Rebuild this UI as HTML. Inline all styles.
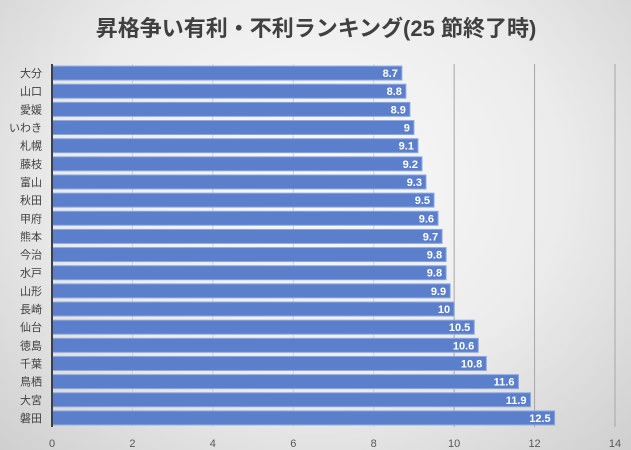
<!DOCTYPE html>
<html><head><meta charset="utf-8"><style>
body{margin:0;width:631px;height:450px;overflow:hidden}
#bg{position:absolute;left:0;top:0;width:631px;height:450px;background:radial-gradient(ellipse at 50% 40%,#fafafa 0%,#ececec 55%,#cfcfcf 100%)}
text{font-family:"Liberation Sans","Noto Sans CJK JP",sans-serif}
</style></head><body>
<div id="bg"></div>
<svg id="c" width="631" height="450" style="position:absolute;left:0;top:0">
<text x="316" y="36" text-anchor="middle" font-size="22" font-weight="bold" fill="#404040">昇格争い有利・不利ランキング(25 節終了時)</text>
</svg>
<script>
const categories=["大分","山口","愛媛","いわき","札幌","藤枝","富山","秋田","甲府","熊本","今治","水戸","山形","長崎","仙台","徳島","千葉","鳥栖","大宮","磐田"];
const values=[8.7,8.8,8.9,9,9.1,9.2,9.3,9.5,9.6,9.7,9.8,9.8,9.9,10,10.5,10.6,10.8,11.6,11.9,12.5];
const labels=["8.7","8.8","8.9","9","9.1","9.2","9.3","9.5","9.6","9.7","9.8","9.8","9.9","10","10.5","10.6","10.8","11.6","11.9","12.5"];
const ticks=[0,2,4,6,8,10,12,14];
const svg=document.getElementById('c');const NS='http://www.w3.org/2000/svg';
const x0=52,x1=615,xmax=14,yTop=64,yBot=427;
const x=v=>x0+v/xmax*(x1-x0);
const band=(yBot-yTop)/categories.length;
const y=i=>yTop+i*band;
function mk(t,a){const e=document.createElementNS(NS,t);for(const k in a)e.setAttribute(k,a[k]);svg.appendChild(e);return e;}
ticks.forEach(t=>{
 if(t>0){const g=mk('line',{x1:x(t),x2:x(t),y1:yTop,y2:yBot,stroke:t>=10?'#a6a6a6':'#d0d0d0','stroke-width':1});
 
 }
 const l=mk('text',{x:x(t),y:447,'text-anchor':'middle','font-size':11,fill:'#595959'});l.textContent=t;
 
 
});
categories.forEach((c,i)=>{
 const cy=y(i)+band/2;
 const r=mk('rect',{x:x0,y:cy-7,width:x(values[i])-x0,height:14,fill:'#5b7fcb',stroke:'#8eaadf','stroke-width':1});
 
 
 const v=mk('text',{x:x(values[i])-4,y:cy+4,'text-anchor':'end','font-size':11,'font-weight':'bold',fill:'#fff'});v.textContent=labels[i];
 
 
 const t=mk('text',{x:42,y:cy+4,'text-anchor':'end','font-size':11,fill:'#404040'});t.textContent=c;
 
 
});
const ax=mk('line',{x1:x0,x2:x0,y1:yTop,y2:yBot,stroke:'#404040','stroke-width':2});


</script>
</body></html>
